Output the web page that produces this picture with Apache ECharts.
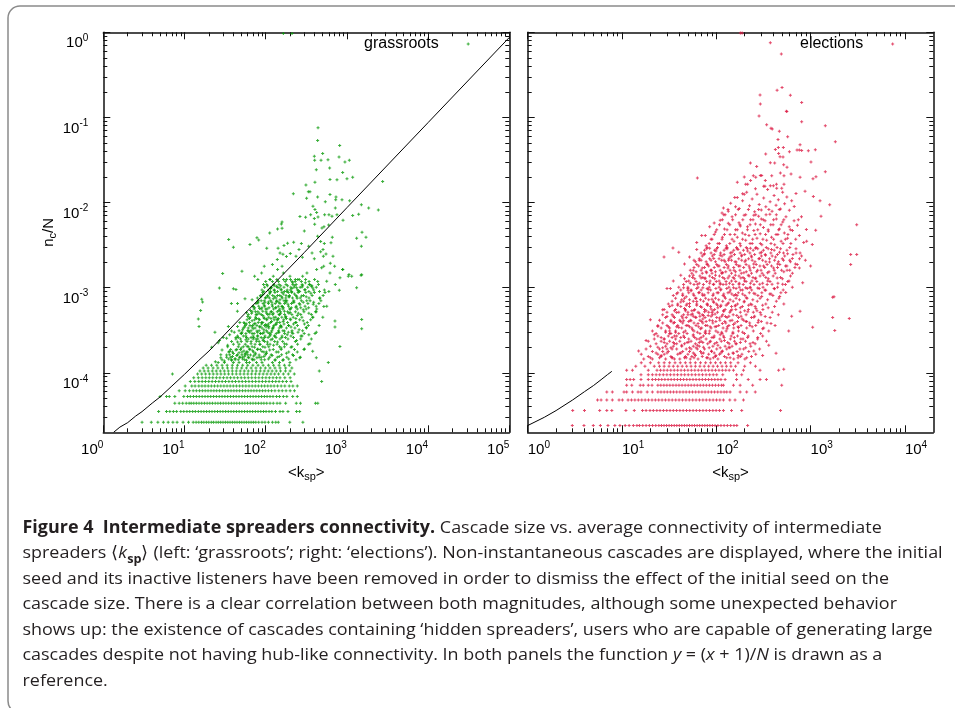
<!DOCTYPE html>
<html>
<head>
<meta charset="utf-8">
<title>Figure 4 - intermediate spreaders connectivity</title>
<script src="https://cdn.jsdelivr.net/npm/echarts@6.0.0/dist/echarts.min.js"></script>
<style>
  html, body { margin: 0; padding: 0; background: #fff; }
  #chart { width: 955px; height: 708px; }
</style>
</head>
<body>
<div id="chart"></div>
<script>
// ---------------- grassroots (left panel) ----------------
// quantised rows at the bottom: n_c/N for small cascades
var gRowY = [2.63e-5, 3.51e-5, 4.39e-5, 5.26e-5, 6.14e-5, 7.02e-5, 7.89e-5, 8.77e-5, 9.65e-5, 1.05e-4, 1.14e-4, 1.23e-4];
var gRowX = [
  [3.0,3.9,4.7,5.5,6.3,7.2,8.1,9.6,11.2,12.8,13.9,15.0,16.2,17.3,18.6,19.9,21.4,22.8,24.5,26.1,27.9,29.8,31.9,34.1,36.4,38.9,41.6,44.4,47.5,50.7,54.2,57.9,61.9,66.1,70.6,75.5,82,90,98,108,121,133,143,198,287],
  [4.8,6.0,6.6,7.3,8.0,9.0,9.8,10.7,11.6,12.6,13.6,14.8,16.0,17.3,18.7,20.2,21.8,23.6,25.5,27.5,29.7,32.1,34.6,37.4,40.4,43.6,47.1,50.8,54.9,59.3,64,69,74.6,80.5,87,94,101,110,119,132,150,163,188,240,262],
  [7.6,8.6,9.5,10.5,11.4,12.1,13.0,14.0,15.1,16.3,17.6,19.0,20.5,22.1,23.9,25.8,27.8,30.0,32.4,35,37.8,40.8,44,47.5,51.3,55.4,59.8,64.6,69.8,75.4,81.4,88,95,103,113,124,138,150,176,238,268,410,438],
  [5.0,6.0,6.5,7.6,9.8,10.9,11.8,12.9,14.0,15.2,16.5,17.9,19.4,21.0,22.8,24.7,26.8,29.0,31.4,34.0,36.9,40,43.3,46.9,50.8,55,59.6,64.6,70,75.8,82.1,89,96.4,104,113,123,136,148,165,182,215,245],
  [8.6,10.2,11.5,12.8,14.0,15.3,16.6,18.0,19.5,21.2,23.0,24.9,27.0,29.3,31.8,34.5,37.4,40.6,44.0,47.7,51.8,56.1,60.9,66,71.6,77.7,84.3,91.4,99,108,118,130,145,160,178,200,226],
  [10.2,12.3,13.5,15.0,16.4,17.9,19.6,21.4,23.4,25.6,28.0,30.6,33.4,36.5,39.9,43.6,47.7,52.1,57,62.3,68.1,74.4,81.3,88.9,97,106,116,127,140,155,172,195,216,245],
  [11.8,13.4,15.0,16.5,18.1,19.9,21.9,24.1,26.5,29.1,32.0,35.2,38.7,42.5,46.8,51.4,56.6,62.2,68.4,75.2,82.7,91,100,110,121,133,146,162,180,205,489],
  [13.0,14.8,16.5,18.3,20.2,22.3,24.7,27.3,30.2,33.4,36.9,40.8,45.1,49.9,55.1,61,67.4,74.5,82.4,91,100.6,111,123,136,150,172,200],
  [7.1,14.5,16.3,18.2,20.3,22.6,25.2,28.1,31.3,34.9,38.9,43.4,48.4,54,60.2,67.1,74.8,83.4,93,103.7,116,129,144,165,190,225],
  [15.5,17.5,19.6,22.0,24.6,27.6,30.9,34.6,38.8,43.4,48.6,54.5,61,68.3,76.5,85.7,96,107.5,120,135,152,175,200,457],
  [17,19.5,22.5,25.8,29.5,33.8,38.6,44.2,50.6,57.9,66.2,75.8,86.7,99,113,130,150,176,210],
  [18.5,21.5,25,29,33.5,38.8,45,52,60,69.5,80.5,93,108,125,146,170,195]
];
// dense core of the cloud, read level by level
var gCoreY = [1.32e-4,1.42e-4,1.52e-4,1.63e-4,1.75e-4,1.88e-4,2.02e-4,2.17e-4,2.33e-4,2.5e-4,2.7e-4,2.9e-4,3.12e-4,3.35e-4,3.6e-4,3.9e-4,
  4.2e-4,4.5e-4,4.85e-4,5.2e-4,5.6e-4,6.05e-4,6.5e-4,7e-4,7.55e-4,8.1e-4,8.75e-4,9.4e-4,1.01e-3,1.09e-3,1.18e-3,
  2.6e-4,3.0e-4,3.45e-4,3.75e-4,4.35e-4,5.0e-4,5.8e-4,6.75e-4,7.8e-4,9.0e-4,1.05e-3,1.25e-3];
var gCoreX = [
  [26,31,40,47,58,63,77,90,121,148,199],
  [29,38,42,55,69,72,97,131,165,236],
  [33,37,48,52,61,83,88,112,139,182,268],
  [28,36,45,56,60,74,99,117,157,214],
  [35,39,51,58,71,95,102,143,192,245],
  [37,44,49,64,79,86,124,155,226,296],
  [34,46,53,61,68,92,109,148,170,210],
  [40,47,56,74,85,105,113,138,181,247,335],
  [38,50,59,66,83,97,129,162,232],
  [43,49,61,76,80,93,121,150,188,270,365],
  [45,53,70,79,98,112,128,159,205,280],
  [50,57,68,86,92,111,135,171,216,298,405],
  [47,60,66,83,102,119,144,163,211,285],
  [53,61,74,90,109,122,147,180,229,318],
  [56,69,78,97,104,126,153,191,246,335,455],
  [54,63,81,92,115,138,149,186,237,325],
  [59,73,84,103,127,141,167,203,262,358],
  [64,75,95,109,133,158,175,218,279,380,505],
  [61,78,88,106,122,146,171,210,270,365],
  [68,80,101,118,139,152,186,232,296,410],
  [72,88,100,125,149,163,197,245,315,425],
  [70,82,97,121,143,158,191,238,305,418,565],
  [76,93,108,131,150,171,208,259,331,452],
  [81,96,115,137,168,182,222,275,352,478],
  [79,99,111,134,160,177,214,266,341,466],
  [86,105,122,149,178,196,236,292,373,510],
  [92,113,130,159,190,209,251,312,398,538],
  [90,108,127,155,184,201,246,303,390,528],
  [97,118,139,168,204,223,266,329,420],
  [103,126,146,178,216,237,281,349,446],
  [100,121,144,174,211,231,275,342,437],
  [46,58,71,88,107,134,175],
  [51,63,79,95,117,146,190,250],
  [55,68,84,101,125,157,205],
  [58,72,89,108,133,168,220,300],
  [63,77,96,116,143,180,235],
  [67,83,103,124,153,193,252,340],
  [73,90,110,134,165,207,270],
  [80,98,119,145,178,223,290,390],
  [87,106,129,157,193,241,315],
  [95,115,140,170,209,262,340,460],
  [105,127,153,186,228,285,370],
  [113,137,166,202,248,310,400]
];
// the rest of the cloud, [k_sp, n_c/N]
var gCloudLow = [
  [24,1.35e-4],[28,1.5e-4],[31,1.38e-4],[33,1.62e-4],[35,1.45e-4],[36,1.78e-4],[38,1.4e-4],[39,1.55e-4],[40,1.68e-4],[42,1.47e-4],
  [43,1.85e-4],[44,1.6e-4],[46,1.42e-4],[47,1.72e-4],[48,1.52e-4],[50,1.95e-4],[51,1.63e-4],[52,1.45e-4],[54,1.8e-4],[55,1.56e-4],
  [56,1.68e-4],[58,1.4e-4],[59,2.05e-4],[60,1.75e-4],[62,1.5e-4],[63,1.9e-4],[65,1.62e-4],[66,2.2e-4],[68,1.45e-4],[69,1.82e-4],
  [71,1.58e-4],[73,2.0e-4],[75,1.7e-4],[77,2.35e-4],[78,1.5e-4],[80,1.9e-4],[83,1.62e-4],[85,2.15e-4],[88,1.42e-4],[90,1.78e-4],
  [93,2.4e-4],[95,1.55e-4],[98,2.0e-4],[102,1.68e-4],[105,2.3e-4],[108,1.45e-4],[112,1.85e-4],[116,2.45e-4],[120,1.6e-4],[125,2.1e-4],
  [130,1.4e-4],[135,1.75e-4],[140,2.3e-4],[147,1.55e-4],[155,1.95e-4],[162,1.4e-4],[170,2.2e-4],[180,1.7e-4],[192,1.45e-4],[205,2.0e-4],
  [220,1.6e-4],[240,2.4e-4],[262,1.5e-4],[300,1.9e-4],[45,2.3e-4],[34,2.1e-4],[29,1.85e-4],[26,2.25e-4],[57,2.45e-4],[70,2.5e-4],
  [21.6,2.0e-4],[350,2.2e-4],[420,1.5e-4],[590,1.32e-4],[820,2.03e-4],[379,1.79e-4]
];
var gCloudMid = [
  [27,2.4e-4],[30,2.6e-4],[33,2.55e-4],[36,2.8e-4],[38,3.1e-4],[41,3.0e-4],[43,2.6e-4],[45,3.5e-4],[48,3.9e-4],[50,2.9e-4],
  [52,3.2e-4],[55,3.8e-4],[57,2.7e-4],[60,4.6e-4],[62,3.1e-4],[64,3.6e-4],[66,2.6e-4],[68,4.1e-4],[70,3.3e-4],[72,2.9e-4],
  [74,3.8e-4],[76,4.8e-4],[78,3.1e-4],[80,2.7e-4],[82,4.3e-4],[85,3.5e-4],[87,2.9e-4],[89,3.9e-4],[92,4.7e-4],[95,3.2e-4],
  [97,2.6e-4],[100,3.7e-4],[103,4.3e-4],[106,3.0e-4],[109,3.5e-4],[112,4.9e-4],[115,2.8e-4],[118,4.0e-4],[122,3.3e-4],[126,4.5e-4],
  [130,2.7e-4],[134,3.7e-4],[138,4.2e-4],[143,3.0e-4],[148,4.8e-4],[153,3.5e-4],[158,2.6e-4],[164,4.0e-4],[170,3.1e-4],[177,4.6e-4],
  [184,2.8e-4],[192,3.6e-4],[200,4.3e-4],[210,3.0e-4],[220,2.6e-4],[232,3.9e-4],[245,4.7e-4],[258,3.2e-4],[272,2.7e-4],[290,4.1e-4],
  [315,3.4e-4],[340,2.8e-4],[380,4.5e-4],[420,3.0e-4],[713,4.05e-4],[713,3.45e-4],[1521,4.24e-4],[1521,3.3e-4],
  [14.8,4.3e-4],[15.1,3.5e-4],[34.7,3.5e-4],[23.7,3.0e-4],
  [58,5.1e-4],[65,5.4e-4],[70,6.0e-4],[75,5.2e-4],[80,6.6e-4],[84,5.7e-4],[88,7.0e-4],[92,5.3e-4],[96,6.2e-4],[100,7.6e-4],
  [104,5.6e-4],[108,6.8e-4],[112,8.5e-4],[116,5.2e-4],[120,6.3e-4],[124,7.4e-4],[128,9.3e-4],[132,5.8e-4],[136,6.9e-4],[140,8.1e-4],
  [145,5.4e-4],[150,7.2e-4],[155,9.6e-4],[160,6.0e-4],[165,8.4e-4],[170,5.3e-4],[176,7.0e-4],[182,9.0e-4],[188,6.4e-4],[195,7.8e-4],
  [202,5.6e-4],[210,9.8e-4],[218,6.8e-4],[226,8.4e-4],[235,5.9e-4],[244,7.5e-4],[254,9.2e-4],[264,6.3e-4],[276,8.0e-4],[290,5.5e-4],
  [305,9.5e-4],[320,7.0e-4],[338,5.8e-4],[360,8.6e-4],[385,6.4e-4],[420,5.2e-4],[460,7.5e-4],[520,6.0e-4],[600,9.0e-4],[806,9.3e-4],
  [380,9.9e-4],[240,1.0e-3],[146,1.0e-3],[200,5.1e-4],[115,9.8e-4],[92,8.3e-4],[68,7.2e-4],[45,6.5e-4],[40,9.7e-4],[55.6,7.4e-4],
  [37.8,6.5e-4],[44.8,5.3e-4],[16.3,7.3e-4],[16.7,6.8e-4],[15.8,5.4e-4],[26.9,9.9e-4],[43,9.5e-4]
];
var gCloudHigh = [
  [165,0.97],[211,0.97],
  [441,0.0755],[436,0.0537],[815,0.0469],[503,0.0378],[397,0.0351],[800,0.0342],[401,0.0315],[480,0.0315],[585,0.0318],[946,0.0299],
  [1071,0.0315],[420,0.0243],[613,0.0254],[887,0.0226],[404,0.0173],[619,0.0186],[755,0.0185],[1002,0.0191],[1178,0.0198],[2756,0.0177],
  [313,0.0161],[219,0.0127],[335,0.0134],[351,0.0134],[619,0.0124],[734,0.0116],[870,0.0108],[1081,0.0105],[436,0.0116],[319,0.0112],
  [542,0.0102],[382,0.00904],[404,0.00826],[424,0.00762],[728,0.0108],[720,0.00863],[1507,0.00944],[1854,0.00863],[2438,0.00818],
  [264,0.00684],[310,0.00671],[358,0.00721],[397,0.00648],[441,0.00677],[532,0.00721],[601,0.00721],[655,0.0069],[755,0.00721],[896,0.0062],
  [1178,0.00703],[1396,0.00728],[401,0.00556],[493,0.00504],[522,0.00518],[596,0.00546],[159,0.00592],[156,0.00561],[140,0.0049],[159,0.00499],
  [112,0.0044],[299,0.00464],[661,0.00391],[338,0.00307],[436,0.00402],[475,0.00348],[527,0.0033],[637,0.00336],[1318,0.00381],[1535,0.00448],
  [1718,0.00391],[1507,0.00307],[78,0.00385],[82,0.00364],[64,0.00321],[35,0.00367],[40,0.00299],[29.5,0.00147],[51,0.00156],[103,0.0029],
  [142,0.0029],[168,0.00313],[186,0.00333],[221,0.00342],[275,0.0033],[257,0.00281],[150,0.00256],[163,0.00247],[180,0.00232],[139,0.00214],
  [201,0.00252],[236,0.00234],[283,0.00228],[372,0.00256],[397,0.00218],[475,0.00265],[553,0.00249],[513,0.00234],[508,0.00281],[674,0.00234],
  [625,0.00194],[706,0.00179],[489,0.00171],[424,0.00163],[518,0.00179],[619,0.00149],[887,0.00163],[1061,0.00143],[1146,0.00136],[1521,0.00142],
  [1318,0.000996],[322,0.00149],[285,0.00136],[259,0.00125],[308,0.00114],[344,0.00109],[365,0.00104],[232,0.00125],[199,0.00136],[159,0.00179],
  [121,0.00187],[140,0.00163],[96,0.00179],[89,0.00149],[80,0.00125],[73,0.00136],[94,0.00109],[113,0.00125],[124,0.00136],[165,0.00149],
  [181,0.00125],[215,0.00114],[280,0.00102],[564,0.00119],[720,0.00109],[822,0.00131],[136,0.00104],[115,0.000996],[888,0.00163],[1041,0.00136],
  [1492,0.0014]
];
// reference curve y = (x+1)/N
var gRefLine = [[1.34,2.0e-5],[1.6,2.3e-5],[2,2.6e-5],[2.5,3.1e-5],[3,3.5e-5],[4,4.4e-5],[5,5.2e-5],[7,7.0e-5],[10,9.6e-5],[15,1.4e-4],
  [20,1.8e-4],[30,2.7e-4],[50,4.5e-4],[100,8.8e-4],[300,2.6e-3],[1000,8.7e-3],[1e4,0.087],[1e5,0.87]];

// ---------------- elections (right panel) ----------------
var eRowY = [2.4e-5, 3.6e-5, 4.8e-5, 5.95e-5, 7.15e-5, 8.35e-5, 9.5e-5, 1.07e-4, 1.19e-4, 1.31e-4];
var eRowX = [
  [2.97,3.95,4.96,5.9,7.1,8.4,9.5,10.8,11.9,13.2,14.4,15.3,16.6,18.0,19.5,21.1,22.8,24.6,26.2,27.9,29.7,31.6,33.6,35.8,38.1,40.5,43.1,45.9,48.8,52,55.3,58.8,62.6,66.6,70.9,75.5,80.3,85.4,90.9,97,104,112,121,131,142,154,165,215],
  [3.0,4.0,5.8,6.9,7.8,11,13.5,16.5,18.0,19.8,21.5,23.4,25.3,27.5,29.8,32.3,35.0,37.9,41.1,44.5,48.3,52.3,56.7,61.4,66.6,72.2,78.2,84.8,92,99.5,108,119,145,186,480],
  [5.5,6.0,6.9,7.9,9.3,10.1,11.6,12.6,13.7,14.9,16.2,17.6,19.1,20.8,22.6,24.5,26.6,28.9,31.4,34.1,37.1,40.3,43.8,47.6,51.7,56.2,61,66.3,72.1,78.3,85.1,92.5,100.5,109,119,139,158,194],
  [6.9,7.9,10.5,11.2,12.9,14.8,15.9,18.5,21,24,25.9,28.0,30.2,32.6,35.2,38.0,41.1,44.4,47.9,51.8,55.9,60.4,65.2,70.4,76,82.1,88.7,95.8,103.5,112,121,129,140,179,210,259],
  [11.2,12.7,15.6,16.8,19.0,20.8,24,25.8,27.8,29.9,32.2,34.7,37.4,40.2,43.3,46.7,50.3,54.1,58.3,62.8,67.6,72.8,78.4,84.5,91,98,105.5,113.6,119,152,179,243,494],
  [11.2,12.2,13.3,15.9,19.0,21.0,22.7,24.5,26.4,28.5,30.8,33.2,35.8,38.7,41.7,45.0,48.6,52.4,56.6,61,65.9,71.1,76.7,82.8,89.3,96.4,104,112,124,164,218,291,340],
  [15.9,19.0,21.0,23.0,25.1,27.4,29.9,32.6,35.6,38.8,42.4,46.2,50.4,55,60,65.5,71.4,77.9,85,92.8,101,117,164,186],
  [11.2,12.9,19.0,23.5,25.6,27.8,30.2,32.9,35.8,38.9,42.3,46,50,54.4,59.2,64.4,70,76.2,82.9,90.2,98.1,106.7,116,126,137,152,194,291,458],
  [14,17.5,22,25,28,31.5,35,39,43.5,48.5,54,60,67,74.5,83,92.5,103,115,128,143,160,200,260],
  [16,20,24.5,28,32,36.5,41.5,47,53,60,68,77,87,98,111,125,142,170,230]
];
// dense core of the cloud, read level by level
var eCoreY = [1.45e-4,1.55e-4,1.65e-4,1.78e-4,1.9e-4,2.05e-4,2.2e-4,2.35e-4,2.5e-4,2.7e-4,2.9e-4,3.1e-4,3.35e-4,3.6e-4,3.85e-4,4.15e-4,
  4.45e-4,4.8e-4,5.15e-4,5.55e-4,6e-4,6.45e-4,6.95e-4,7.5e-4,8.1e-4,8.7e-4,9.4e-4,1.01e-3,1.09e-3,1.18e-3,1.27e-3,1.37e-3,1.48e-3,
  1.6e-3,1.73e-3,1.87e-3,2.02e-3,2.18e-3,2.36e-3,2.55e-3,2.75e-3,2.97e-3,
  1.5e-4,1.71e-4,1.97e-4,2.27e-4,2.6e-4,3.0e-4,3.47e-4,4.0e-4,4.62e-4,5.35e-4,6.2e-4,7.2e-4,8.4e-4,9.75e-4,1.13e-3,1.32e-3,1.54e-3,
  1.8e-3,2.1e-3,2.45e-3,2.86e-3,3.3e-3,3.7e-3,4.2e-3,4.8e-3,5.5e-3,6.3e-3,7.2e-3,8.3e-3];
var eCoreX = [
  [17,21,29,36,41,53,64,86,104,153,201],
  [19,26,33,47,55,71,98,122,181,236],
  [16,24,28,39,50,59,83,108,135,187,262],
  [21,27,31,44,52,68,89,115,166,221],
  [18,25,34,38,48,63,75,101,129,178,288],
  [20,29,35,43,57,66,92,124,147,232],
  [23,30,38,46,60,81,96,137,163,258],
  [19,26,32,41,54,69,87,113,156,204,340],
  [22,28,37,51,62,78,109,141,192,274],
  [24,31,36,45,57,73,95,119,168,218,310],
  [23,33,40,49,67,84,115,150,199,295],
  [21,29,37,47,58,77,99,127,172,247,360],
  [26,32,43,55,70,88,118,153,210,318],
  [24,30,39,50,61,80,106,136,183,262,420],
  [27,35,44,58,72,92,126,158,226,345],
  [25,33,41,53,67,85,109,147,195,280],
  [29,36,48,61,76,101,130,172,236,372],
  [27,34,45,54,71,91,117,151,207,298,455],
  [30,40,50,64,83,103,139,180,247,392],
  [28,37,47,59,75,96,124,161,219,312],
  [32,42,52,68,87,111,145,189,258,415],
  [31,39,49,62,80,100,131,168,231,335,520],
  [34,45,57,73,93,117,151,198,272,433],
  [37,46,61,77,98,125,162,212,291,461],
  [35,44,58,72,92,118,154,201,276,398],
  [39,51,65,82,105,133,171,224,304,484],
  [42,54,69,87,111,141,181,237,327,512],
  [40,50,64,84,107,136,175,229,313,446,640],
  [45,58,73,93,118,150,193,251,346,541],
  [48,61,79,100,127,161,207,269,371,572],
  [46,59,76,96,122,155,199,259,356,502],
  [52,67,85,108,137,174,223,291,401,612],
  [55,71,90,114,145,184,236,306,421,641],
  [53,69,87,110,140,178,229,298,411,563],
  [58,75,95,121,153,195,250,326,446,682],
  [62,80,101,128,163,207,265,346,471,722],
  [60,78,98,124,158,201,257,335,456,611],
  [66,85,107,136,173,220,282,367,501,762],
  [71,91,115,146,185,235,301,391,531,802],
  [69,88,111,141,179,227,291,379,516,701],
  [75,96,121,153,194,246,316,411,561],
  [80,103,130,164,208,264,339,441,601],
  [25,34,46,58,79,93,140,170],
  [23,30,42,57,73,95,112,150],
  [27,33,52,61,84,110,139,205],
  [28,35,49,66,72,101,132,180,245],
  [26,34,42,59,69,90,121,155,215],
  [29,37,45,63,76,104,114,150,190],
  [31,38,52,65,86,97,131,170,240],
  [33,42,51,70,78,99,123,168,210,300],
  [35,43,57,67,88,114,136,183,255],
  [36,47,55,78,92,119,142,200,270],
  [39,48,62,81,103,127,160,220,310],
  [43,52,68,83,106,140,176,244,350],
  [44,57,71,93,120,146,190,258,380],
  [50,62,80,99,129,162,213,285,410],
  [53,66,85,110,138,175,230,310,450],
  [56,72,91,117,151,192,245,335,480],
  [61,78,98,126,160,208,268,362,520],
  [65,83,107,134,172,222,290,385,560],
  [69,88,114,145,186,240,310,415,600],
  [74,95,121,156,200,255,330,445,650],
  [79,101,130,166,213,275,355,480,700],
  [84,108,139,178,228,293,380,510],
  [88,115,147,190,243,312,405,540],
  [95,122,157,202,258,333,430,575],
  [101,130,167,214,275,355,458,610],
  [108,139,178,228,293,378,487],
  [116,149,191,245,315,405,520],
  [124,160,205,262,337,433],
  [133,171,219,281,361,465]
];
var eCloudLow = [
  [15,1.8e-4],[18,2.4e-4],[20,1.5e-4],[22,2.8e-4],[24,2.0e-4],[26,1.6e-4],[28,2.5e-4],[30,1.9e-4],[32,2.9e-4],[34,1.5e-4],
  [36,2.2e-4],[38,2.7e-4],[41,1.7e-4],[43,2.1e-4],[46,2.6e-4],[48,1.5e-4],[51,2.3e-4],[54,1.9e-4],[57,2.8e-4],[60,1.6e-4],
  [63,2.1e-4],[66,2.5e-4],[70,1.7e-4],[73,2.0e-4],[77,2.9e-4],[81,1.5e-4],[85,2.3e-4],[89,1.8e-4],[94,2.6e-4],[99,1.6e-4],
  [104,2.1e-4],[110,2.8e-4],[116,1.8e-4],[122,2.4e-4],[129,1.5e-4],[136,2.0e-4],[144,2.7e-4],[152,1.7e-4],[161,2.2e-4],[171,1.6e-4],
  [182,2.5e-4],[195,1.9e-4],[210,1.5e-4],[228,2.2e-4],[250,1.8e-4],[275,2.6e-4],[310,1.6e-4],[360,2.1e-4],[430,1.7e-4],[519,1.1e-4],
  [20,4.2e-4],[24,3.5e-4],[27,5.5e-4],[30,4.6e-4],[32,3.1e-4],[34,6.2e-4],[36,3.9e-4],[38,5.1e-4],[40,3.4e-4],[42,6.8e-4],
  [44,4.4e-4],[46,5.7e-4],[48,3.6e-4],[50,4.8e-4],[52,6.5e-4],[54,4.1e-4],[56,3.2e-4],[58,5.4e-4],[60,4.5e-4],[62,6.9e-4],
  [64,3.8e-4],[66,5.0e-4],[68,3.3e-4],[70,5.9e-4],[72,4.3e-4],[75,5.2e-4],[77,3.6e-4],[80,6.4e-4],[82,4.7e-4],[85,3.1e-4],
  [88,5.6e-4],[91,4.1e-4],[94,6.7e-4],[97,4.9e-4],[100,3.5e-4],[104,5.8e-4],[108,4.4e-4],[112,6.2e-4],[116,3.8e-4],[120,5.3e-4],
  [125,4.6e-4],[130,3.3e-4],[135,6.6e-4],[140,4.1e-4],[146,5.5e-4],[152,3.7e-4],[158,6.1e-4],[165,4.7e-4],[172,3.4e-4],[180,5.8e-4],
  [188,4.3e-4],[197,6.8e-4],[206,4.0e-4],[216,5.2e-4],[227,3.6e-4],[238,6.3e-4],[250,4.5e-4],[263,5.7e-4],[277,3.9e-4],[292,5.1e-4],
  [310,3.3e-4],[330,4.6e-4],[355,5.8e-4],[380,3.8e-4],[586,3.1e-4],[773,5.3e-4],[630,4.63e-4],[1714,7.74e-4],[1714,4.45e-4],[2570,4.34e-4],
  [1803,3.15e-4],[1052,3.44e-4],[56,4.9e-4],[73,4.7e-4],[90,5.1e-4],[45,4.1e-4]
];
var eCloudMid = [
  [30,9.8e-4],[35,1.2e-3],[38,8.5e-4],[42,1.4e-3],[45,1.0e-3],[48,7.8e-4],[51,1.2e-3],[54,9.2e-4],[57,1.4e-3],[60,7.5e-4],
  [63,1.1e-3],[66,8.8e-4],[69,1.3e-3],[72,1.0e-3],[75,8.2e-4],[79,1.5e-3],[82,9.5e-4],[86,1.2e-3],[90,7.3e-4],[94,1.1e-3],
  [98,1.4e-3],[102,8.7e-4],[107,1.2e-3],[112,9.6e-4],[117,1.5e-3],[122,7.8e-4],[127,1.1e-3],[133,1.3e-3],[139,8.9e-4],[145,1.2e-3],
  [152,1.0e-3],[159,1.4e-3],[166,8.1e-4],[174,1.1e-3],[182,1.3e-3],[190,9.4e-4],[199,1.2e-3],[208,7.6e-4],[218,1.4e-3],[228,1.0e-3],
  [239,1.2e-3],[250,8.6e-4],[262,1.3e-3],[275,9.9e-4],[289,1.1e-3],[303,7.9e-4],[318,1.4e-3],[334,9.3e-4],[351,1.2e-3],[369,8.4e-4],
  [390,1.1e-3],[415,9.7e-4],[442,1.3e-3],[470,7.9e-4],[505,1.1e-3],[545,8.8e-4],[590,1.2e-3],[50,9.3e-4],[110,1.1e-3],[160,8.3e-4],
  [76,1.3e-3],[205,1.0e-3],[824,1.14e-3],[1770,7.8e-4],[32.6,9.8e-4],
  [40,2.6e-3],[46,1.9e-3],[52,2.3e-3],[57,1.6e-3],[62,2.8e-3],[66,2.1e-3],[71,1.7e-3],[75,2.5e-3],[80,1.9e-3],[85,2.9e-3],
  [89,1.6e-3],[94,2.2e-3],[99,2.7e-3],[104,1.8e-3],[110,2.4e-3],[115,1.5e-3],[121,2.1e-3],[127,2.9e-3],[133,1.7e-3],[140,2.3e-3],
  [147,2.6e-3],[154,1.6e-3],[162,2.0e-3],[170,2.8e-3],[178,1.8e-3],[187,2.4e-3],[196,1.5e-3],[205,2.1e-3],[215,2.7e-3],[226,1.7e-3],
  [237,2.3e-3],[249,1.9e-3],[261,2.9e-3],[274,1.6e-3],[288,2.2e-3],[302,2.6e-3],[317,1.8e-3],[333,2.4e-3],[350,1.5e-3],[367,2.0e-3],
  [385,2.8e-3],[405,1.7e-3],[425,2.3e-3],[446,1.9e-3],[468,2.6e-3],[492,1.6e-3],[516,2.1e-3],[542,1.8e-3],[570,2.5e-3],[600,1.6e-3],
  [640,2.2e-3],[690,1.9e-3],[760,1.7e-3],[880,2.1e-3],[1000,1.8e-3],[58,2.1e-3],[135,2.1e-3],[230,2.9e-3],[34.7,2.93e-3],[27.9,2.3e-3],
  [2661,2.45e-3],[3083,2.45e-3],[2661,1.87e-3]
];
var eCloudHigh = [
  [62,3.4e-3],[70,4.1e-3],[78,3.1e-3],[85,5.2e-3],[90,3.7e-3],[98,4.5e-3],[104,3.3e-3],[110,6.2e-3],[116,3.9e-3],[122,4.9e-3],
  [128,3.1e-3],[134,5.7e-3],[140,4.2e-3],[147,6.8e-3],[154,3.5e-3],[160,4.8e-3],[167,3.9e-3],[174,5.8e-3],[181,3.1e-3],[189,4.4e-3],
  [197,7.1e-3],[205,3.6e-3],[214,5.2e-3],[222,4.1e-3],[231,6.3e-3],[240,3.3e-3],[250,4.7e-3],[260,5.6e-3],[270,3.8e-3],[281,6.9e-3],
  [292,4.3e-3],[304,3.2e-3],[316,5.1e-3],[329,6.1e-3],[342,3.6e-3],[356,4.6e-3],[370,7.3e-3],[385,3.9e-3],[400,5.5e-3],[416,3.2e-3],
  [433,6.4e-3],[450,4.2e-3],[468,4.9e-3],[487,3.5e-3],[506,5.9e-3],[527,4.4e-3],[548,6.8e-3],[570,3.8e-3],[593,5.2e-3],[617,3.3e-3],
  [642,4.7e-3],[668,6.1e-3],[695,3.7e-3],[725,5.4e-3],[760,4.1e-3],[800,6.8e-3],[845,3.4e-3],[180,5.3e-3],[300,6.4e-3],[120,7.2e-3],
  [250,7.1e-3],[95,5.75e-3],[76.5,4.09e-3],[1289,6.89e-3],[1132,4.72e-3],[902,4.81e-3],[741,6.3e-3],[908,3.51e-3],[1042,3.21e-3],[773,2.56e-3],
  [3083,5.5e-3],
  [142,9.8e-3],[175,8.5e-3],[210,0.0132],[225,9.2e-3],[240,0.011],[255,7.8e-3],[270,0.0125],[285,9.5e-3],[300,8.2e-3],[318,0.0113],
  [335,8.9e-3],[350,0.0142],[372,0.0102],[390,7.9e-3],[410,0.0121],[430,9.3e-3],[455,0.0108],[480,8.4e-3],[505,0.0132],[530,9.7e-3],
  [560,0.0116],[595,8.1e-3],[630,0.0105],[670,9.0e-3],[700,0.0128],[260,0.0145],[190,0.0105],[160,8.9e-3],[115,7.55e-3],[119,8.63e-3],
  [134,7.88e-3],[157,0.0115],[167,0.0115],[190,0.0127],[198,0.0125],[873,0.0136],[1069,0.0118],[1259,0.0105],[1594,9.44e-3],
  [180,0.98],[188,0.98],[374,0.756],[489,0.557],[498,0.224],[441,0.209],[610,0.182],[291,0.184],[293,0.144],[804,0.15],
  [553,0.118],[560,0.117],[284,0.104],[804,0.0887],[342,0.0818],[380,0.0748],[392,0.073],[466,0.069],[1432,0.0796],[571,0.0592],
  [451,0.0551],[773,0.0477],[1829,0.0518],[455,0.0443],[514,0.0443],[423,0.042],[718,0.0413],[759,0.0413],[804,0.041],[946,0.0407],
  [1122,0.0417],[596,0.0395],[334,0.0371],[458,0.0376],[474,0.0345],[510,0.0342],[374,0.0294],[416,0.0292],[518,0.0278],[562,0.0259],
  [230,0.0292],[268,0.0266],[1009,0.0299],[1432,0.023],[63,0.0194],[198,0.02],[247,0.0207],[262,0.0198],[293,0.0208],[303,0.0208],
  [331,0.0182],[387,0.0206],[478,0.0222],[522,0.0206],[620,0.0216],[773,0.0198],[1060,0.0191],[1140,0.0201],[231,0.0181],[167,0.0173],
  [205,0.0164],[215,0.0164],[318,0.0155],[328,0.0155],[374,0.0158],[403,0.0158],[434,0.0164],[437,0.0147],[494,0.0147],[522,0.0164]
];
var eRefLine = [[1,2.4e-5],[1.5,3.0e-5],[2,3.6e-5],[3,4.8e-5],[4,6.0e-5],[5,7.1e-5],[6,8.3e-5],[7,9.5e-5],[7.8,1.04e-4]];

// ---------------- ticks ----------------
var xTicksLeft = [1, 10, 100, 1000, 1e4, 1e5];
var xTicksRight = [1, 10, 100, 1000, 1e4];
var yTicks = [1e-4, 1e-3, 1e-2, 1e-1, 1];
var minorSteps = [2, 3, 4, 5, 6, 7, 8, 9];

var FONT = 'Liberation Sans';
var PLUS = 'path://M1,0H2V1H3V2H2V3H1V2H0V1H1Z';
var GREEN = '#079a07';
var RED = '#dc1a44';

function rowsToPoints(rowY, rowX) {
  var pts = [];
  rowY.forEach(function (y, i) {
    rowX[i].forEach(function (x) { pts.push([x, y]); });
  });
  return pts;
}

function minorTicks(min, max) {
  var out = [];
  for (var d = 1e-6; d < max; d *= 10) {
    minorSteps.forEach(function (s) {
      var v = s * d;
      if (v > min * 1.0001 && v < max * 0.9999) out.push(v);
    });
  }
  return out;
}

function expLabel(v) {
  return '{b|10}{sup|' + Math.round(Math.log10(v)) + '}';
}

var labelRich = {
  b: { fontFamily: FONT, fontSize: 15, lineHeight: 20, color: '#000' },
  sup: { fontFamily: FONT, fontSize: 10, lineHeight: 2, verticalAlign: 'top', color: '#000' }
};

// four axes per side: main (line, major ticks, labels), mirror, and minor ticks on both sides
function logAxes(grid, isX, min, max, majors, label, name) {
  var pos = isX ? ['bottom', 'top'] : ['left', 'right'];
  var minors = minorTicks(min, max);
  var axes = [];
  [0, 1, 2, 3].forEach(function (k) {
    var isMinor = k >= 2;
    var ax = {
      type: 'log', logBase: 10, gridIndex: grid, min: min, max: max,
      position: pos[k % 2],
      splitLine: { show: false },
      axisLine: { show: !isMinor, onZero: false, lineStyle: { color: '#111', width: 1.5 } },
      axisTick: {
        show: true, inside: true, length: isMinor ? 4 : 7,
        customValues: isMinor ? minors : majors,
        lineStyle: { color: '#111', width: 1 }
      },
      axisLabel: { show: false },
      silent: true
    };
    if (k === 0 && label) {
      ax.axisLabel = label;
      ax.axisLabel.customValues = majors;
    }
    if (k === 0 && name) {
      ax.name = name.text;
      ax.nameLocation = 'middle';
      ax.nameGap = name.gap;
      ax.nameRotate = name.rotate;
      ax.nameTextStyle = {
        fontFamily: FONT, fontSize: 15, lineHeight: 20, color: '#000',
        rich: { s: { fontFamily: FONT, fontSize: 11, lineHeight: 10, verticalAlign: 'bottom', color: '#000' } }
      };
    }
    axes.push(ax);
  });
  return axes;
}

var xLabelLeft = { show: true, margin: 8, align: 'right', formatter: expLabel, rich: labelRich, showMinLabel: true, showMaxLabel: true };
var xLabelRight = { show: true, margin: 8, align: 'left', formatter: expLabel, rich: labelRich, showMinLabel: true, showMaxLabel: true };
var yLabel = { show: true, margin: 15, padding: [22, 0, 0, 0], formatter: expLabel, rich: labelRich, showMinLabel: true, showMaxLabel: true };
var xName = { text: '<k{s|sp}>', gap: 28, rotate: 0 };
var yName = { text: 'n{s|c}/N', gap: 44, rotate: 90 };

var xAxes = logAxes(0, true, 1, 1e5, xTicksLeft, xLabelLeft, xName)
  .concat(logAxes(1, true, 1, 2e4, xTicksRight, xLabelRight, xName));
var yAxes = logAxes(0, false, 2e-5, 1, yTicks, yLabel, yName)
  .concat(logAxes(1, false, 2e-5, 1, yTicks, null, null));

// ---------------- caption ----------------
var caption = [
  [['b', 'Figure 4  Intermediate spreaders connectivity.'], ['r', ' Cascade size vs. average connectivity of intermediate']],
  [['r', 'spreaders \u27e8'], ['i', 'k'], ['sub', 'sp'], ['r', '\u27e9 (left: \u2018grassroots\u2019; right: \u2018elections\u2019). Non-instantaneous cascades are displayed, where the initial']],
  [['r', 'seed and its inactive listeners have been removed in order to dismiss the effect of the initial seed on the']],
  [['r', 'cascade size. There is a clear correlation between both magnitudes, although some unexpected behavior']],
  [['r', 'shows up: the existence of cascades containing \u2018hidden spreaders\u2019, users who are capable of generating large']],
  [['r', 'cascades despite not having hub-like connectivity. In both panels the function '], ['i', 'y'], ['r', ' = ('], ['i', 'x'], ['r', ' + 1)/'], ['i', 'N'], ['r', ' is drawn as a']],
  [['r', 'reference.']]
];
var CAP_FONT = 'Open Sans';
var CAP_SIZE = 17;
var CAP_COLOR = '#231f20';
var capRich = {
  r: { fontFamily: CAP_FONT, fontSize: CAP_SIZE, lineHeight: 25.5, fill: CAP_COLOR },
  b: { fontFamily: CAP_FONT, fontSize: CAP_SIZE, fontWeight: 'bold', lineHeight: 25.5, fill: CAP_COLOR },
  i: { fontFamily: CAP_FONT, fontSize: CAP_SIZE, fontStyle: 'italic', lineHeight: 25.5, fill: CAP_COLOR },
  sub: { fontFamily: CAP_FONT, fontSize: 12, fontWeight: 'bold', lineHeight: 17, verticalAlign: 'bottom', fill: CAP_COLOR }
};
var capText = caption.map(function (line) {
  return line.map(function (seg) { return '{' + seg[0] + '|' + seg[1] + '}'; }).join('');
}).join('\n');
// squeeze the caption horizontally so that the widest line fits the frame (condensed face in the original)
var ctx = document.createElement('canvas').getContext('2d');
ctx.font = CAP_SIZE + 'px "' + CAP_FONT + '"';
var widest = ctx.measureText(caption[1].map(function (s) { return s[1]; }).join('')).width;
var capScale = 926 / widest;

var option = {
  animation: false,
  backgroundColor: '#fff',
  grid: [
    { left: 103.3, top: 32.3, width: 406, height: 400 },
    { left: 527.7, top: 32.3, width: 405.6, height: 400 }
  ],
  xAxis: xAxes,
  yAxis: yAxes,
  legend: [
    {
      data: ['grassroots'], left: 364, top: 36, align: 'right', padding: 0, selectedMode: false,
      icon: PLUS, itemWidth: 3, itemHeight: 3,
      textStyle: { fontFamily: FONT, fontSize: 16, color: '#000', padding: [0, 23, 0, 0] }
    },
    {
      data: ['elections'], left: 800, top: 36, align: 'right', padding: 0, selectedMode: false,
      icon: PLUS, itemWidth: 3, itemHeight: 3,
      textStyle: { fontFamily: FONT, fontSize: 16, color: '#000', padding: [0, 23, 0, 0] }
    }
  ],
  series: [
    {
      name: 'grassroots', type: 'scatter', xAxisIndex: 0, yAxisIndex: 0,
      symbol: PLUS, symbolSize: 3, itemStyle: { color: GREEN },
      data: rowsToPoints(gRowY, gRowX).concat(rowsToPoints(gCoreY, gCoreX), gCloudLow, gCloudMid, gCloudHigh)
    },
    {
      name: 'gLine', type: 'line', xAxisIndex: 0, yAxisIndex: 0, data: gRefLine,
      showSymbol: false, silent: true, lineStyle: { color: '#000', width: 1 }, z: 3
    },
    {
      name: 'elections', type: 'scatter', xAxisIndex: 4, yAxisIndex: 4,
      symbol: PLUS, symbolSize: 3, itemStyle: { color: RED },
      data: rowsToPoints(eRowY, eRowX).concat(rowsToPoints(eCoreY, eCoreX), eCloudLow, eCloudMid, eCloudHigh)
    },
    {
      name: 'eLine', type: 'line', xAxisIndex: 4, yAxisIndex: 4, data: eRefLine,
      showSymbol: false, silent: true, lineStyle: { color: '#000', width: 1 }, z: 3
    }
  ],
  graphic: [
    {
      type: 'rect', silent: true, z: -10,
      shape: { x: 8, y: 6, width: 990, height: 707, r: 12 },
      style: { fill: 'none', stroke: '#8a8a8a', lineWidth: 1.5 }
    },
    {
      type: 'text', silent: true, x: 22.5, y: 515, scaleX: capScale,
      style: { text: capText, rich: capRich, fill: CAP_COLOR, align: 'left', verticalAlign: 'top',
               fontFamily: CAP_FONT, fontSize: CAP_SIZE, lineHeight: 25.5 }
    }
  ]
};

echarts.init(document.getElementById('chart')).setOption(option);
</script>
</body>
</html>
